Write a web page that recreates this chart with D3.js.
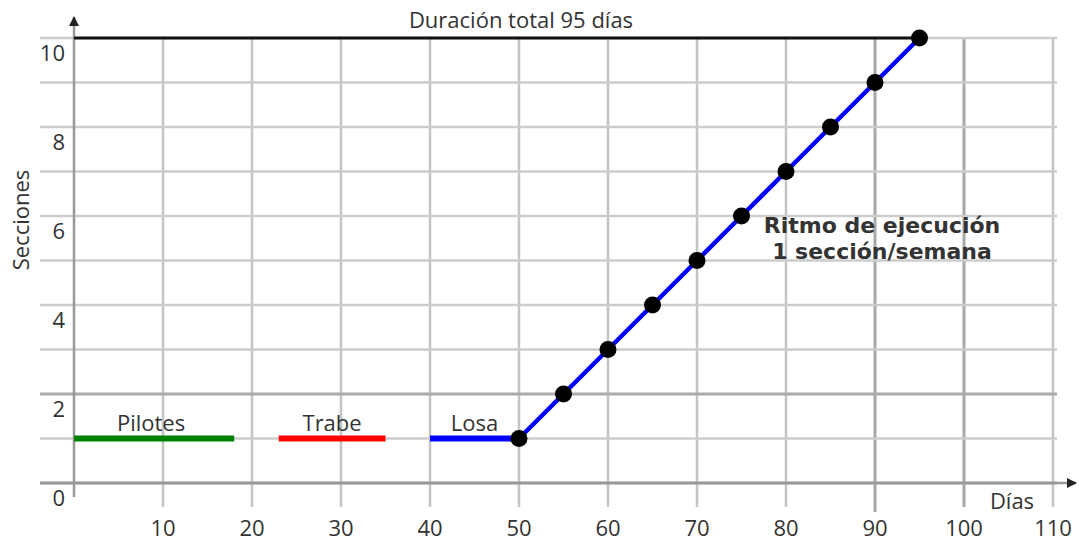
<!DOCTYPE html>
<html>
<head>
<meta charset="utf-8">
<script src="https://cdn.jsdelivr.net/npm/d3@7"></script>
<style>
  body { margin: 0; background: #fff; }
  svg { display: block; }
  text { font-family: "Open Sans", "DejaVu Sans", sans-serif; fill: #333; }
</style>
</head>
<body>
<svg width="1079" height="541"></svg>
<script>
// data
const xTicks = [10, 20, 30, 40, 50, 60, 70, 80, 90, 100, 110]
const yTicks = [0, 2, 4, 6, 8, 10]
const yGrid = [0, 1, 2, 3, 4, 5, 6, 7, 8, 9, 10]
const activities = [
  { name: "Pilotes", start: 0, end: 18, level: 1, color: "#008000" },
  { name: "Trabe", start: 23, end: 35, level: 1, color: "#ff0000" },
  { name: "Losa", start: 40, end: 50, level: 1, color: "#0000ff" }
]
const ritmoDays = [50, 55, 60, 65, 70, 75, 80, 85, 90, 95]
const ritmoSecciones = [1, 2, 3, 4, 5, 6, 7, 8, 9, 10]
const totalDays = 95

const svg = d3.select("svg")
const x = d3.scaleLinear().domain([0, 110]).range([74, 1053])
const y = d3.scaleLinear().domain([0, 10]).range([483, 38])

let darkX = [90, 100]
let darkY = [0, 2]

// vertical grid
svg.append("g").selectAll("line")
  .data(xTicks)
  .enter()
  .append("line")
  .attr("x1", d => x(d)).attr("x2", d => x(d))
  .attr("y1", y(10)).attr("y2", d => d === 90 ? 512 : 507)
  .attr("stroke", d => darkX.includes(d) ? "#a8a8a8" : "#c4c4c4")
  .attr("stroke-width", d => darkX.includes(d) ? 3 : 2.5)

// horizontal grid
svg.append("g").selectAll("line")
  .data(yGrid)
  .enter()
  .append("line")
  .attr("x1", 40).attr("x2", 1057)
  .attr("y1", d => y(d)).attr("y2", d => y(d))
  .attr("stroke", d => darkY.includes(d) ? "#aaaaaa" : "#cdcdcd")
  .attr("stroke-width", d => darkY.includes(d) ? 3 : 2.5)

// axes with arrows
svg.append("defs").append("marker")
  .attr("id", "arrow")
  .attr("viewBox", "0 0 10 10")
  .attr("refX", 9).attr("refY", 5)
  .attr("markerWidth", 4).attr("markerHeight", 4)
  .attr("orient", "auto")
  .append("path").attr("d", "M0,0L10,5L0,10Z").attr("fill", "#222")

svg.append("line")
  .attr("x1", x(0)).attr("x2", x(0))
  .attr("y1", 497).attr("y2", 17)
  .attr("stroke", "#999").attr("stroke-width", 2.5)
  .attr("marker-end", "url(#arrow)")
svg.append("line")
  .attr("x1", 40).attr("x2", 1076)
  .attr("y1", y(0)).attr("y2", y(0))
  .attr("stroke", "#999").attr("stroke-width", 2.5)
  .attr("marker-end", "url(#arrow)")

// total duration line
svg.append("line")
  .attr("x1", x(0)).attr("x2", x(totalDays))
  .attr("y1", y(10)).attr("y2", y(10))
  .attr("stroke", "#111").attr("stroke-width", 3)

// tick labels
svg.append("g").selectAll("text")
  .data(xTicks)
  .enter()
  .append("text")
  .attr("x", d => x(d)).attr("y", 536)
  .attr("text-anchor", "middle")
  .style("font-size", "22px")
  .text(d => d)

svg.append("g").selectAll("text")
  .data(yTicks)
  .enter()
  .append("text")
  .attr("x", 65).attr("y", d => y(d) + 23)
  .attr("text-anchor", "end")
  .style("font-size", "22px")
  .text(d => d)

svg.append("text")
  .attr("transform", "translate(29,220) rotate(-90)")
  .attr("text-anchor", "middle")
  .style("font-size", "22px")
  .text("Secciones")

svg.append("text")
  .attr("x", 1012).attr("y", 509)
  .attr("text-anchor", "middle")
  .style("font-size", "22px")
  .text("Días")

svg.append("text")
  .attr("x", 521).attr("y", 28)
  .attr("text-anchor", "middle")
  .style("font-size", "22px")
  .text("Duración total 95 días")

// activity bars
svg.append("g").selectAll("line")
  .data(activities)
  .enter()
  .append("line")
  .attr("x1", d => x(d.start)).attr("x2", d => x(d.end))
  .attr("y1", d => y(d.level)).attr("y2", d => y(d.level))
  .attr("stroke", d => d.color).attr("stroke-width", 6)

svg.append("g").selectAll("text")
  .data(activities)
  .enter()
  .append("text")
  .attr("x", d => x((d.start + d.end) / 2) + (d.name === "Pilotes" ? -3 : 0))
  .attr("y", d => y(d.level) - 8)
  .attr("text-anchor", "middle")
  .style("font-size", "22px")
  .text(d => d.name)

// rhythm line
let pts = ritmoDays.map((d, i) => [d, ritmoSecciones[i]])
svg.append("path")
  .datum(pts)
  .attr("d", d3.line().x(d => x(d[0])).y(d => y(d[1])))
  .attr("fill", "none")
  .attr("stroke", "#0000ff").attr("stroke-width", 4.5)

svg.append("g").selectAll("circle")
  .data(pts)
  .enter()
  .append("circle")
  .attr("cx", d => x(d[0])).attr("cy", d => y(d[1]))
  .attr("r", 8.5)
  .attr("fill", "#000")

let note = svg.append("text")
  .attr("text-anchor", "middle")
  .style("font-family", "'DejaVu Sans', Verdana, sans-serif")
  .style("font-weight", "bold")
  .style("font-size", "22px")
note.append("tspan").attr("x", 882).attr("y", 233).text("Ritmo de ejecución")
note.append("tspan").attr("x", 882).attr("y", 259).text("1 sección/semana")
</script>
</body>
</html>
